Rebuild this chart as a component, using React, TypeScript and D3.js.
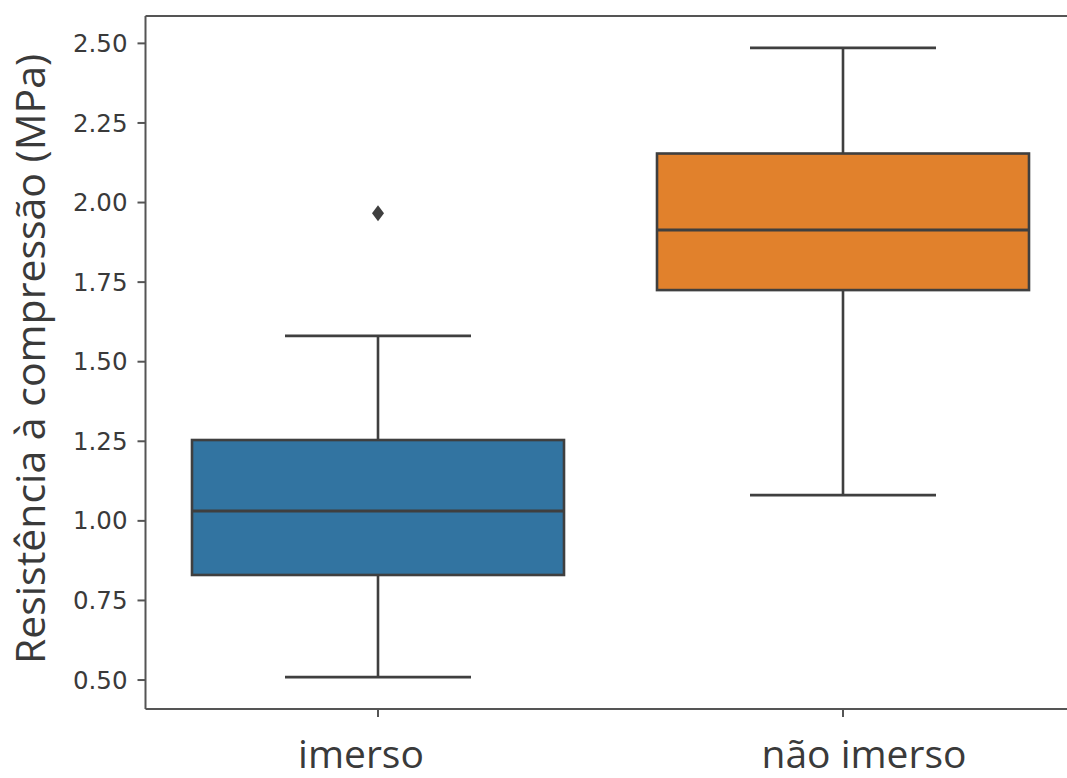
import React from "react";
import * as d3 from "d3";

// Box summaries for compressive strength (MPa)
const categories = ["imerso", "não imerso"];
const whiskerLow = [0.509, 1.081];
const q1 = [0.83, 1.725];
const median = [1.031, 1.914];
const q3 = [1.254, 2.154];
const whiskerHigh = [1.581, 2.486];
const outliers = [[1.966], []];
const fills = ["#3274a1", "#e1812c"];
const yTicks = [0.5, 0.75, 1.0, 1.25, 1.5, 1.75, 2.0, 2.25, 2.5];
const yLabel = "Resistência à compressão (MPa)";

const W = 1067;
const H = 778;
const plot = { left: 145.5, right: 1075.5, top: 16, bottom: 709 };
const edge = "#3f3f3f";
const spine = "#555555";

export default function App() {
  const x = d3
    .scaleBand<string>()
    .domain(categories)
    .range([plot.left, plot.right])
    .paddingInner(0)
    .paddingOuter(0);
  const y = d3.scaleLinear().domain([0.409, 2.586]).range([plot.bottom, plot.top]);
  const step = x.step();
  const boxW = step * 0.8;
  const capW = boxW / 2;
  const labelShift = [-17, 21];

  return (
    <svg
      width={W}
      height={H}
      style={{ position: "absolute", left: 0, top: 0, background: "#fff" }}
    >
      <rect x={0} y={0} width={W} height={H} fill="#fff" />
      {categories.map((c, i) => {
        const cx = (x(c) as number) + step / 2;
        return (
          <g key={c}>
            {/* whiskers */}
            <line x1={cx} x2={cx} y1={y(q3[i])} y2={y(whiskerHigh[i])} stroke={edge} strokeWidth={2.6} />
            <line x1={cx} x2={cx} y1={y(q1[i])} y2={y(whiskerLow[i])} stroke={edge} strokeWidth={2.6} />
            <line x1={cx - capW / 2} x2={cx + capW / 2} y1={y(whiskerHigh[i])} y2={y(whiskerHigh[i])} stroke={edge} strokeWidth={2.6} />
            <line x1={cx - capW / 2} x2={cx + capW / 2} y1={y(whiskerLow[i])} y2={y(whiskerLow[i])} stroke={edge} strokeWidth={2.6} />
            {/* box */}
            <rect
              x={cx - boxW / 2}
              y={y(q3[i])}
              width={boxW}
              height={y(q1[i]) - y(q3[i])}
              fill={fills[i]}
              stroke={edge}
              strokeWidth={2.6}
            />
            <line x1={cx - boxW / 2} x2={cx + boxW / 2} y1={y(median[i])} y2={y(median[i])} stroke={edge} strokeWidth={3} />
            {/* outliers */}
            {outliers[i].map((v, j) => {
              const oy = y(v);
              return (
                <path
                  key={j}
                  d={`M${cx},${oy - 8} L${cx + 6},${oy} L${cx},${oy + 8} L${cx - 6},${oy} Z`}
                  fill={edge}
                />
              );
            })}
            {/* x tick */}
            <line x1={cx} x2={cx} y1={plot.bottom} y2={plot.bottom + 8} stroke={spine} strokeWidth={2} />
            <text
              x={cx + labelShift[i]}
              y={768}
              textAnchor="middle"
              fontFamily="'Open Sans', sans-serif"
              fontSize={39}
              fill="#3a3a3a"
            >
              {c}
            </text>
          </g>
        );
      })}
      {/* y axis ticks */}
      {yTicks.map((t) => (
        <g key={t}>
          <line x1={plot.left - 8} x2={plot.left} y1={y(t)} y2={y(t)} stroke={spine} strokeWidth={2} />
          <text
            x={plot.left - 18}
            y={y(t)}
            dy="0.35em"
            textAnchor="end"
            fontFamily="'DejaVu Sans', sans-serif"
            fontSize={24.5}
            fill="#3a3a3a"
          >
            {d3.format(".2f")(t)}
          </text>
        </g>
      ))}
      {/* spines */}
      <line x1={plot.left} x2={plot.left} y1={plot.top} y2={plot.bottom} stroke={spine} strokeWidth={2} />
      <line x1={plot.left} x2={plot.right} y1={plot.bottom} y2={plot.bottom} stroke={spine} strokeWidth={2} />
      <line x1={plot.left} x2={plot.right} y1={plot.top} y2={plot.top} stroke={spine} strokeWidth={2} />
      <line x1={plot.right} x2={plot.right} y1={plot.top} y2={plot.bottom} stroke={spine} strokeWidth={2} />
      <text
        transform={`translate(45, 359) rotate(-90)`}
        textAnchor="middle"
        fontFamily="'Open Sans', sans-serif"
        fontSize={41}
        fill="#3a3a3a"
      >
        {yLabel}
      </text>
    </svg>
  );
}
